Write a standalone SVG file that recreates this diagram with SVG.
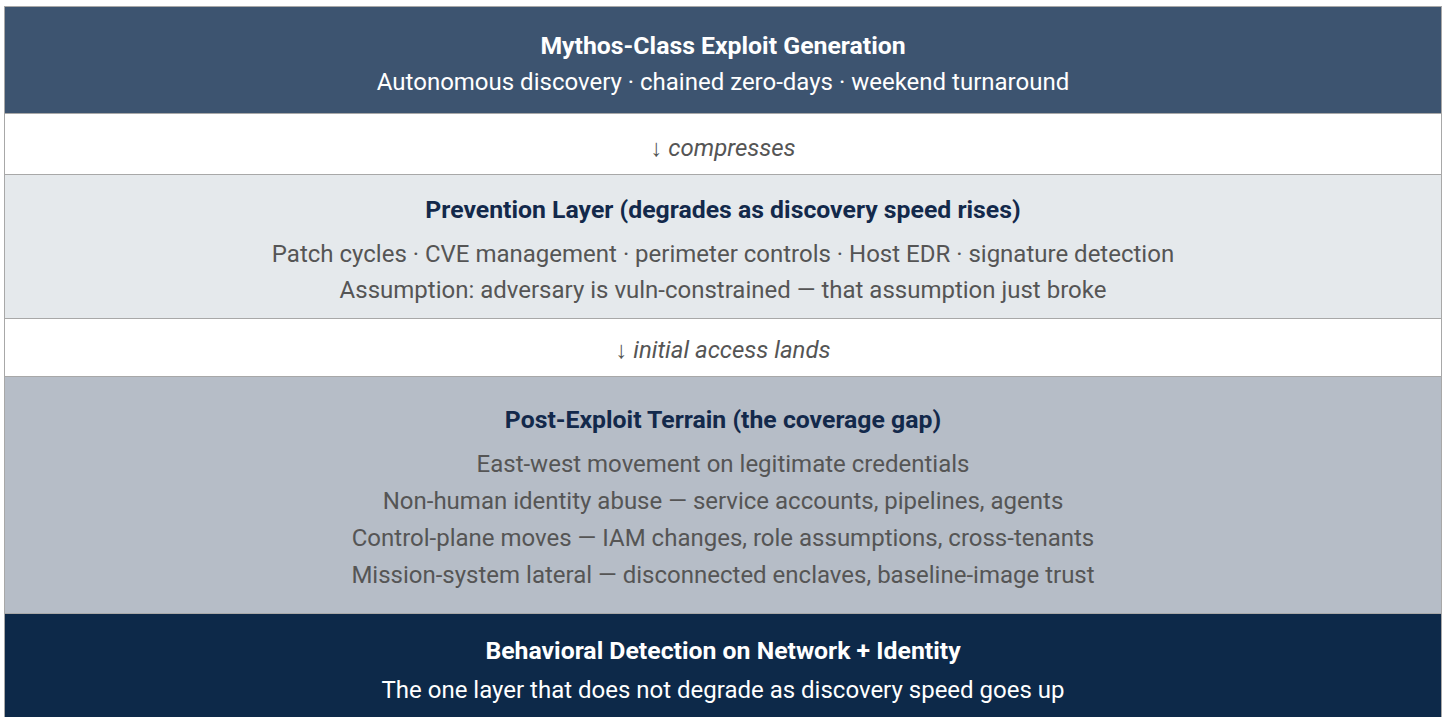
<svg xmlns="http://www.w3.org/2000/svg" width="1447" height="717" viewBox="0 0 1447 717">
<style>
text{font-family:Roboto,"Liberation Sans",sans-serif;text-anchor:middle}
.t{font-weight:700;font-size:24.8px}
.b{font-size:24px}
.c{font-size:24px;font-style:italic;fill:#555}
.band{stroke:#a8a8a8;stroke-width:1}
</style>
<rect x="0" y="0" width="1447" height="717" fill="#fff"/>
<g id="exploit-generation">
<rect class="band" x="4.5" y="6.5" width="1437" height="107" fill="#3d5470"/>
<text class="t" x="723" y="54" fill="#fff">Mythos-Class Exploit Generation</text>
<text class="b" x="723" y="90" fill="#fff">Autonomous discovery · chained zero-days · weekend turnaround</text>
</g>
<g id="prevention-layer">
<rect class="band" x="4.5" y="174.5" width="1437" height="144" fill="#e5e9ec"/>
<text class="t" x="723" y="218" fill="#13294b">Prevention Layer (degrades as discovery speed rises)</text>
<text class="b" x="723" y="262" fill="#555">Patch cycles · CVE management · perimeter controls · Host EDR · signature detection</text>
<text class="b" x="723" y="298" fill="#555">Assumption: adversary is vuln-constrained — that assumption just broke</text>
</g>
<g id="post-exploit-terrain">
<rect class="band" x="4.5" y="376.5" width="1437" height="237" fill="#b6bdc7"/>
<text class="t" x="723" y="428" fill="#13294b">Post-Exploit Terrain (the coverage gap)</text>
<text class="b" x="723" y="472" fill="#555">East-west movement on legitimate credentials</text>
<text class="b" x="723" y="509" fill="#555">Non-human identity abuse — service accounts, pipelines, agents</text>
<text class="b" x="723" y="546" fill="#555">Control-plane moves — IAM changes, role assumptions, cross-tenants</text>
<text class="b" x="723" y="583" fill="#555">Mission-system lateral — disconnected enclaves, baseline-image trust</text>
</g>
<g id="behavioral-detection">
<rect class="band" x="4.5" y="613.5" width="1437" height="110" fill="#0d2949"/>
<text class="t" x="723" y="659" fill="#fff">Behavioral Detection on Network + Identity</text>
<text class="b" x="723" y="698" fill="#fff">The one layer that does not degrade as discovery speed goes up</text>
</g>
<g id="connectors">
<rect class="band" x="4.5" y="113.5" width="1437" height="61" fill="#fff"/>
<text class="c" x="723" y="156">↓ compresses</text>
<rect class="band" x="4.5" y="318.5" width="1437" height="58" fill="#fff"/>
<text class="c" x="723" y="358">↓ initial access lands</text>
</g>
</svg>
